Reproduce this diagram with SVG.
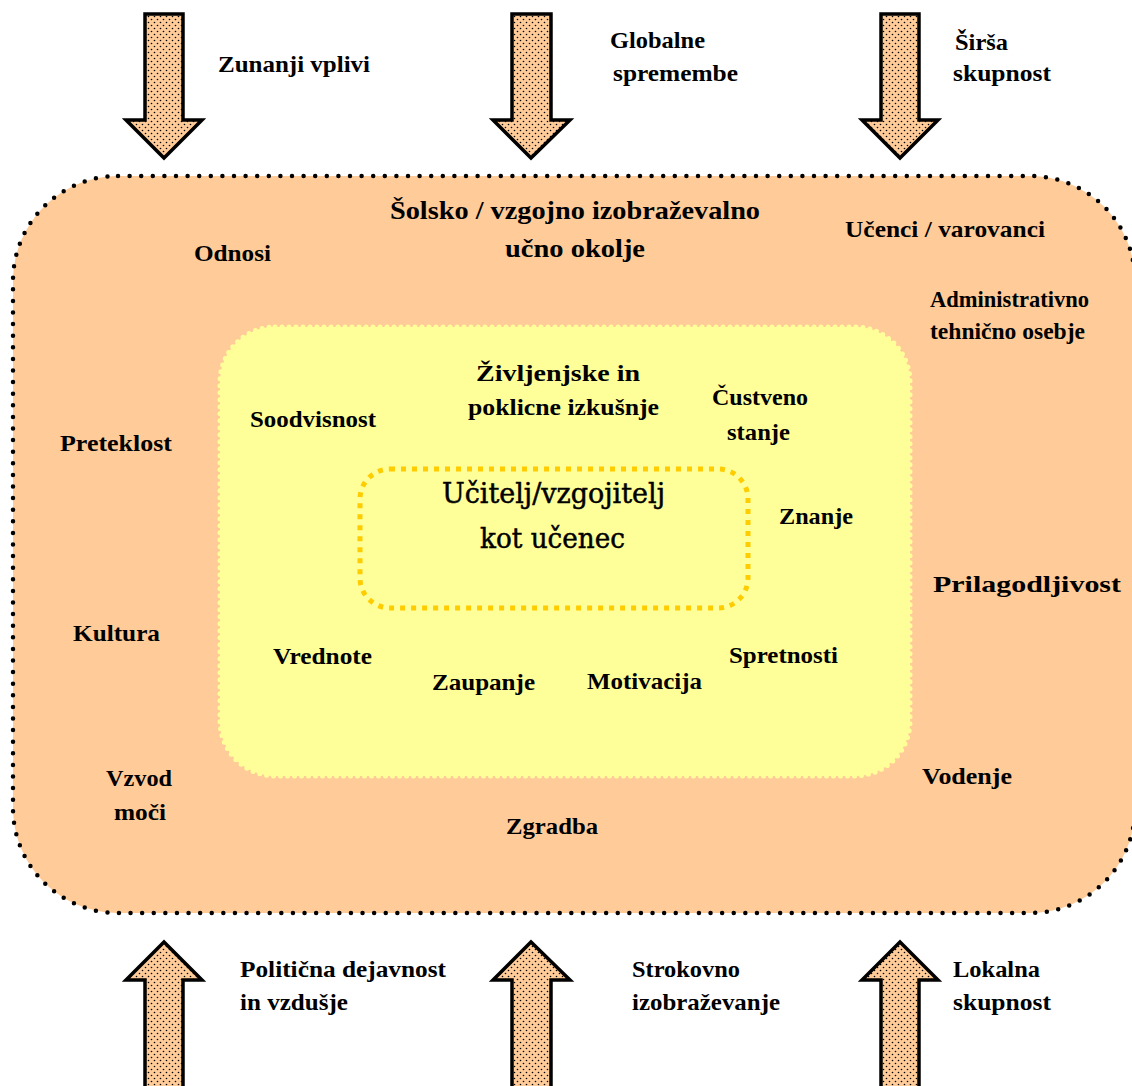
<svg xmlns="http://www.w3.org/2000/svg" width="1132" height="1086" viewBox="0 0 1132 1086">
  <style>
    .lbl { font-family: "Liberation Serif", "Times New Roman", serif; font-weight: bold; font-size: 24px; fill: #000; }
    .big { font-size: 26px; }
    .core { font-family: "DejaVu Serif", "Liberation Serif", serif; font-weight: normal; font-size: 28px; fill: #000; stroke: #000; stroke-width: 0.5; }
    .arrow { fill: url(#stipple); stroke: #000; stroke-width: 3.5; stroke-linejoin: miter; }
  </style>
  <defs>
    <!-- peach stipple used inside the block arrows -->
    <pattern id="stipple" width="6" height="6" patternUnits="userSpaceOnUse">
      <rect width="6" height="6" fill="#FFCC99"/>
      <circle cx="1.5" cy="1.5" r="0.8" fill="#000"/>
      <circle cx="4.5" cy="4.5" r="0.8" fill="#000"/>
    </pattern>
  </defs>

  <rect width="1132" height="1086" fill="#FFFFFF"/>

  <!-- outer environment -->
  <g id="environment">
    <rect x="13" y="176" width="1122" height="737" rx="105" ry="105" fill="#FFCC99" stroke="#000" stroke-width="4.5" stroke-dasharray="0 11.6" stroke-linecap="round"/>
    <text class="lbl big" x="390" y="219" textLength="370" lengthAdjust="spacingAndGlyphs">Šolsko / vzgojno izobraževalno</text>
    <text class="lbl big" x="505" y="257" textLength="140" lengthAdjust="spacingAndGlyphs">učno okolje</text>
    <text class="lbl" x="194" y="261" textLength="77" lengthAdjust="spacingAndGlyphs">Odnosi</text>
    <text class="lbl" x="845" y="237" textLength="200" lengthAdjust="spacingAndGlyphs">Učenci / varovanci</text>
    <text class="lbl" x="930" y="307" textLength="159" lengthAdjust="spacingAndGlyphs">Administrativno</text>
    <text class="lbl" x="930" y="339" textLength="155" lengthAdjust="spacingAndGlyphs">tehnično osebje</text>
    <text class="lbl" x="60" y="451" textLength="112" lengthAdjust="spacingAndGlyphs">Preteklost</text>
    <text class="lbl" x="73" y="641" textLength="87" lengthAdjust="spacingAndGlyphs">Kultura</text>
    <text class="lbl" x="106" y="786" textLength="66" lengthAdjust="spacingAndGlyphs">Vzvod</text>
    <text class="lbl" x="114" y="820" textLength="52" lengthAdjust="spacingAndGlyphs">moči</text>
    <text class="lbl" x="506" y="834" textLength="92" lengthAdjust="spacingAndGlyphs">Zgradba</text>
    <text class="lbl" x="922" y="784" textLength="90" lengthAdjust="spacingAndGlyphs">Vodenje</text>
    <text class="lbl" x="933" y="592" textLength="188" lengthAdjust="spacingAndGlyphs">Prilagodljivost</text>
  </g>

  <!-- personal layer -->
  <g id="personal">
    <rect x="220" y="327" width="690" height="449" rx="55" ry="55" fill="#FFFF99" stroke="#FFFF99" stroke-width="5" stroke-dasharray="0 7" stroke-linecap="round"/>
    <text class="lbl" x="250" y="427" textLength="126" lengthAdjust="spacingAndGlyphs">Soodvisnost</text>
    <text class="lbl" x="476" y="381" textLength="164" lengthAdjust="spacingAndGlyphs">Življenjske in</text>
    <text class="lbl" x="468" y="415" textLength="191" lengthAdjust="spacingAndGlyphs">poklicne izkušnje</text>
    <text class="lbl" x="712" y="405" textLength="96" lengthAdjust="spacingAndGlyphs">Čustveno</text>
    <text class="lbl" x="727" y="440" textLength="63" lengthAdjust="spacingAndGlyphs">stanje</text>
    <text class="lbl" x="779" y="524" textLength="74" lengthAdjust="spacingAndGlyphs">Znanje</text>
    <text class="lbl" x="273" y="664" textLength="99" lengthAdjust="spacingAndGlyphs">Vrednote</text>
    <text class="lbl" x="432" y="690" textLength="103" lengthAdjust="spacingAndGlyphs">Zaupanje</text>
    <text class="lbl" x="587" y="689" textLength="115" lengthAdjust="spacingAndGlyphs">Motivacija</text>
    <text class="lbl" x="729" y="663" textLength="109" lengthAdjust="spacingAndGlyphs">Spretnosti</text>
  </g>

  <!-- core: teacher as learner -->
  <g id="core">
    <rect x="360" y="469" width="388" height="139" rx="30" ry="30" fill="none" stroke="#FFCC00" stroke-width="5" stroke-dasharray="5 6"/>
    <text class="core" x="442" y="503" textLength="223" lengthAdjust="spacingAndGlyphs">Učitelj/vzgojitelj</text>
    <text class="core" x="480" y="548" textLength="145" lengthAdjust="spacingAndGlyphs">kot učenec</text>
  </g>

  <!-- external influences: block arrows -->
  <g id="connectors">
    <polygon class="arrow" points="145,14 183,14 183,120 202,120 164,158 126,120 145,120"/>
    <polygon class="arrow" points="512,14 551,14 551,120 570,120 531,158 493,120 512,120"/>
    <polygon class="arrow" points="881,14 919,14 919,120 938,120 900,158 862,120 881,120"/>
    <polygon class="arrow" points="145,1090 183,1090 183,980 202,980 164,942 126,980 145,980"/>
    <polygon class="arrow" points="512,1090 551,1090 551,980 570,980 531,942 493,980 512,980"/>
    <polygon class="arrow" points="881,1090 919,1090 919,980 938,980 900,942 862,980 881,980"/>
  </g>

  <g id="influences">
    <text class="lbl" x="218" y="72" textLength="152" lengthAdjust="spacingAndGlyphs">Zunanji vplivi</text>
    <text class="lbl" x="610" y="48" textLength="95" lengthAdjust="spacingAndGlyphs">Globalne</text>
    <text class="lbl" x="613" y="81" textLength="125" lengthAdjust="spacingAndGlyphs">spremembe</text>
    <text class="lbl" x="955" y="50" textLength="53" lengthAdjust="spacingAndGlyphs">Širša</text>
    <text class="lbl" x="953" y="81" textLength="98" lengthAdjust="spacingAndGlyphs">skupnost</text>
    <text class="lbl" x="240" y="977" textLength="206" lengthAdjust="spacingAndGlyphs">Politična dejavnost</text>
    <text class="lbl" x="240" y="1010" textLength="108" lengthAdjust="spacingAndGlyphs">in vzdušje</text>
    <text class="lbl" x="632" y="977" textLength="108" lengthAdjust="spacingAndGlyphs">Strokovno</text>
    <text class="lbl" x="632" y="1010" textLength="148" lengthAdjust="spacingAndGlyphs">izobraževanje</text>
    <text class="lbl" x="953" y="977" textLength="87" lengthAdjust="spacingAndGlyphs">Lokalna</text>
    <text class="lbl" x="953" y="1010" textLength="98" lengthAdjust="spacingAndGlyphs">skupnost</text>
  </g>
</svg>
